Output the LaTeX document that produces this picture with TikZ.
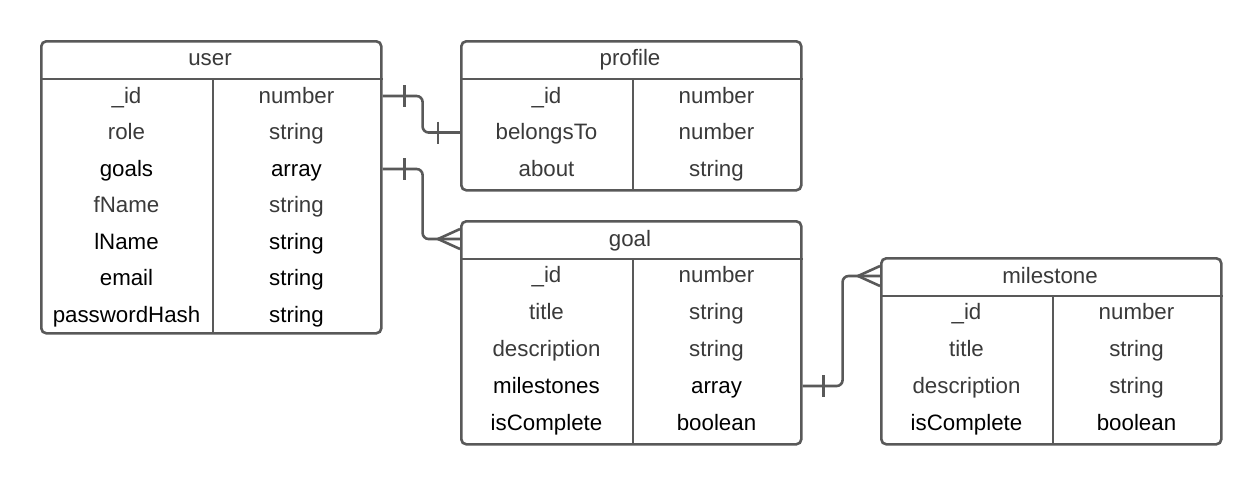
\documentclass[tikz,border=0pt]{standalone}
\usepackage{fontspec}
\setmainfont{Liberation Sans}
\usetikzlibrary{calc}
\definecolor{lc}{HTML}{595959}
\definecolor{tg}{HTML}{3A3A3A}
\begin{document}
\begin{tikzpicture}[x=1pt,y=-1pt,
  tbl/.style={draw=lc, line width=2.6pt, rounded corners=5pt, fill=white, inner sep=0pt, anchor=north west},
  cell/.style={font=\fontsize{22.3}{26}\selectfont, text=tg, inner sep=0pt, anchor=center, text height=19.6pt, text depth=5pt},
  blk/.style={text=black},
  sep/.style={draw=lc, line width=2.6pt},
  conn/.style={draw=lc, line width=2.6pt, rounded corners=6pt},
  bar/.style={draw=lc, line width=2.6pt}]
\useasboundingbox (0,0) rectangle (1260,485);

% ---------- user ----------
\node[tbl, minimum width=340pt, minimum height=292pt] (user) at (40,40) {};
\draw[sep] (user.west |- 0,79) -- (user.east |- 0,79);
\draw[sep] (213,79) -- (213,332);
\node[cell] (uh) at (210,58) {user};
\node[cell] (u1a) at (126.5,96) {\_id};
\node[cell] (u1b) at (296.5,96) {number};
\node[cell] (u2a) at (126.5,132.5) {role};
\node[cell] (u2b) at (296.5,132.5) {string};
\node[cell,blk] (u3a) at (126.5,169) {goals};
\node[cell,blk] (u3b) at (296.5,169) {array};
\node[cell] (u4a) at (126.5,205.5) {fName};
\node[cell] (u4b) at (296.5,205.5) {string};
\node[cell,blk] (u5a) at (126.5,242) {lName};
\node[cell,blk] (u5b) at (296.5,242) {string};
\node[cell,blk] (u6a) at (126.5,278.5) {email};
\node[cell,blk] (u6b) at (296.5,278.5) {string};
\node[cell,blk] (u7a) at (126.5,315) {passwordHash};
\node[cell,blk] (u7b) at (296.5,315) {string};

% ---------- profile ----------
\node[tbl, minimum width=340pt, minimum height=149pt] (profile) at (460,40) {};
\draw[sep] (profile.west |- 0,79) -- (profile.east |- 0,79);
\draw[sep] (633,79) -- (633,189);
\node[cell] (ph) at (630,58) {profile};
\node[cell] (p1a) at (546.5,96) {\_id};
\node[cell] (p1b) at (716.5,96) {number};
\node[cell] (p2a) at (546.5,132.5) {belongsTo};
\node[cell] (p2b) at (716.5,132.5) {number};
\node[cell] (p3a) at (546.5,169) {about};
\node[cell] (p3b) at (716.5,169) {string};

% ---------- goal ----------
\node[tbl, minimum width=340pt, minimum height=223pt] (goal) at (460,220) {};
\draw[sep] (goal.west |- 0,259) -- (goal.east |- 0,259);
\draw[sep] (633,259) -- (633,443);
\node[cell] (gh) at (630,239) {goal};
\node[cell] (g1a) at (546.5,275) {\_id};
\node[cell] (g1b) at (716.5,275) {number};
\node[cell] (g2a) at (546.5,312) {title};
\node[cell] (g2b) at (716.5,312) {string};
\node[cell] (g3a) at (546.5,349) {description};
\node[cell] (g3b) at (716.5,349) {string};
\node[cell,blk] (g4a) at (546.5,386) {milestones};
\node[cell,blk] (g4b) at (716.5,386) {array};
\node[cell,blk] (g5a) at (546.5,423) {isComplete};
\node[cell,blk] (g5b) at (716.5,423) {boolean};

% ---------- milestone ----------
\node[tbl, minimum width=340pt, minimum height=186pt] (milestone) at (880,257) {};
\draw[sep] (milestone.west |- 0,296) -- (milestone.east |- 0,296);
\draw[sep] (1053,296) -- (1053,443);
\node[cell] (mh) at (1050,276) {milestone};
\node[cell] (m1a) at (966.5,312) {\_id};
\node[cell] (m1b) at (1136.5,312) {number};
\node[cell] (m2a) at (966.5,349) {title};
\node[cell] (m2b) at (1136.5,349) {string};
\node[cell] (m3a) at (966.5,386) {description};
\node[cell] (m3b) at (1136.5,386) {string};
\node[cell,blk] (m4a) at (966.5,423) {isComplete};
\node[cell,blk] (m4b) at (1136.5,423) {boolean};

% ---------- connectors ----------
% user._id -- profile.belongsTo (one to one)
\draw[conn] (user.east |- u1b) -- ++(40,0) |- (profile.west |- p2a);
\draw[bar] ($(user.east |- u1b)+(22,-11)$) -- ++(0,22);
\draw[bar] ($(profile.west |- p2a)+(-22,-11)$) -- ++(0,22);

% user.goals -- goal (one to many)
\draw[conn] (user.east |- u3b) -- ++(40,0) |- (goal.west |- gh);
\draw[bar] ($(user.east |- u3b)+(22,-11)$) -- ++(0,22);
\draw[bar] ($(goal.west |- gh)+(0,-10)$) -- ($(goal.west |- gh)+(-22,0)$) -- ($(goal.west |- gh)+(0,10)$);

% goal.milestones -- milestone (one to many)
\draw[conn] (goal.east |- g4b) -- ++(40,0) |- (milestone.west |- mh);
\draw[bar] ($(goal.east |- g4b)+(21,-11)$) -- ++(0,22);
\draw[bar] ($(milestone.west |- mh)+(0,-10)$) -- ($(milestone.west |- mh)+(-22,0)$) -- ($(milestone.west |- mh)+(0,10)$);
\end{tikzpicture}
\end{document}
